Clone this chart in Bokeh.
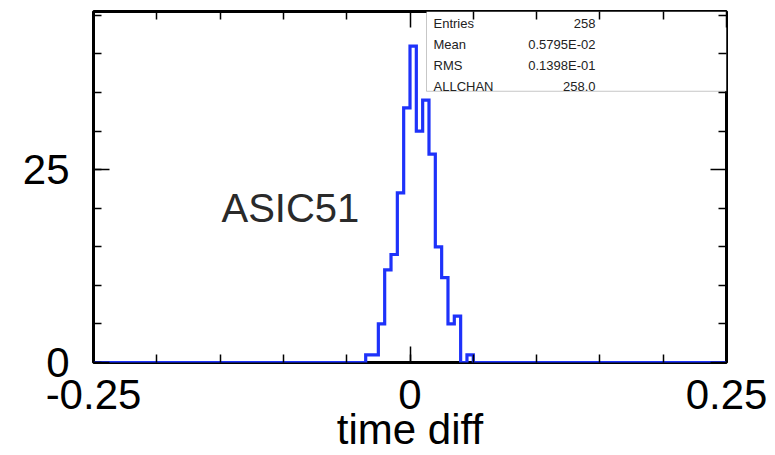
import numpy as np
from bokeh.plotting import figure
from bokeh.models import FixedTicker, LinearAxis, Range1d, Label, BoxAnnotation
from bokeh.embed import file_html
from bokeh.resources import INLINE

# ---------------- data ----------------
bin_low = -0.25
bin_high = 0.25
n_bins = 100
first_filled_bin = -0.035          # lower edge of the first non-empty bin
filled_counts = [1, 1, 5, 12, 14, 22, 33, 41, 30, 34, 27, 15, 11, 5, 6, 0, 1]

x_major = [-0.25, 0.0, 0.25]
x_major_labels = ["-0.25", "0", "0.25"]
y_major = [0, 25]
y_major_labels = ["0", "25"]
y_max = 45.5

stats_names = ["Entries", "Mean", "RMS", "ALLCHAN"]
stats_values = ["258", "0.5795E-02", "0.1398E-01", "258.0"]
hist_title = "ASIC51"
x_title = "time diff"

# ---------------- histogram arrays ----------------
edges = np.linspace(bin_low, bin_high, n_bins + 1)
width = (bin_high - bin_low) / n_bins
counts = np.zeros(n_bins)
start = int(round((first_filled_bin - bin_low) / width))
counts[start:start + len(filled_counts)] = filled_counts
step_y = np.append(counts, counts[-1])

# ---------------- layout geometry ----------------
W, H = 775, 455
FL, FR, FT, FB = 93, 726, 11, 363   # frame edges in pixels


def px_to_x(px):
    return bin_low + (px - FL) / (FR - FL) * (bin_high - bin_low)


def px_to_y(py):
    return (FB - py) / (FB - FT) * y_max


p = figure(width=W, height=H,
           x_range=Range1d(bin_low, bin_high), y_range=Range1d(0, y_max),
           output_backend="svg", toolbar_location=None,
           min_border_left=FL, min_border_right=W - FR,
           min_border_top=FT, min_border_bottom=H - FB)
p.grid.visible = False
p.outline_line_color = "black"
p.outline_line_width = 3
p.background_fill_color = "white"
p.border_fill_color = "white"

# stats box (under the axes ticks)
box = BoxAnnotation(left=px_to_x(426), right=bin_high, top=y_max, bottom=px_to_y(91),
                    fill_color="white", fill_alpha=1.0, line_color="#444444",
                    line_width=1, level="underlay")
p.add_layout(box)

# histogram outline
p.step(edges, step_y, mode="after", line_color="#1e32fa", line_width=3.2,
       line_join="miter")

font = "Liberation Sans"
x_minor = np.round(np.arange(bin_low, bin_high + 1e-9, 0.05), 4).tolist()
y_minor = list(range(0, 50, 5))


def style_ticks(ax, ticks, minor, tick_len_major=16, tick_len_minor=8):
    ax.ticker = FixedTicker(ticks=ticks, minor_ticks=minor)
    ax.axis_line_color = None
    ax.major_tick_in = tick_len_major
    ax.major_tick_out = 0
    ax.minor_tick_in = tick_len_minor
    ax.minor_tick_out = 0
    ax.major_tick_line_color = "black"
    ax.minor_tick_line_color = "black"
    ax.major_tick_line_width = 1.5
    ax.minor_tick_line_width = 1.5


xa = p.xaxis[0]
style_ticks(xa, x_major, x_minor)
xa.major_label_overrides = {t: l for t, l in zip(x_major, x_major_labels)}
xa.major_label_text_font = font
xa.major_label_text_font_size = "42px"
xa.major_label_text_color = "black"
xa.major_label_standoff = 17
xa.axis_label = x_title
xa.axis_label_text_font = font
xa.axis_label_text_font_size = "42px"
xa.axis_label_text_font_style = "normal"
xa.axis_label_text_color = "black"
xa.axis_label_standoff = -6

ya = p.yaxis[0]
style_ticks(ya, y_major, y_minor)
ya.major_label_overrides = {t: l for t, l in zip(y_major, y_major_labels)}
ya.major_label_text_font = font
ya.major_label_text_font_size = "42px"
ya.major_label_text_color = "black"
ya.major_label_text_align = "right"
ya.major_label_standoff = 24

# mirrored tick marks on top and right (no labels): minor-only tickers
for loc, minor, major in (("above", x_minor, x_major), ("right", y_minor, y_major)):
    ax_minor = LinearAxis()
    style_ticks(ax_minor, [], [m for m in minor if m not in major])
    ax_minor.major_label_standoff = 0
    p.add_layout(ax_minor, loc)
    ax_major = LinearAxis()
    style_ticks(ax_major, [], list(major), tick_len_minor=16)
    ax_major.major_label_standoff = 0
    p.add_layout(ax_major, loc)

# stats texts
row_base = [23, 44, 65, 86]
for name, val, b in zip(stats_names, stats_values, row_base):
    p.add_layout(Label(x=px_to_x(433), y=px_to_y(b), text=name,
                       text_font=font, text_font_size="13px", text_color="#222222",
                       text_align="left", text_baseline="alphabetic"))
    p.add_layout(Label(x=px_to_x(595), y=px_to_y(b), text=val,
                       text_font=font, text_font_size="13px", text_color="#222222",
                       text_align="right", text_baseline="alphabetic"))

# histogram title inside the frame
p.add_layout(Label(x=px_to_x(221), y=px_to_y(208), text=hist_title,
                   text_font=font, text_font_size="40px", text_color="#2a2a2a",
                   text_align="left", text_baseline="alphabetic"))

open("out.html", "w").write(file_html(p, INLINE))
